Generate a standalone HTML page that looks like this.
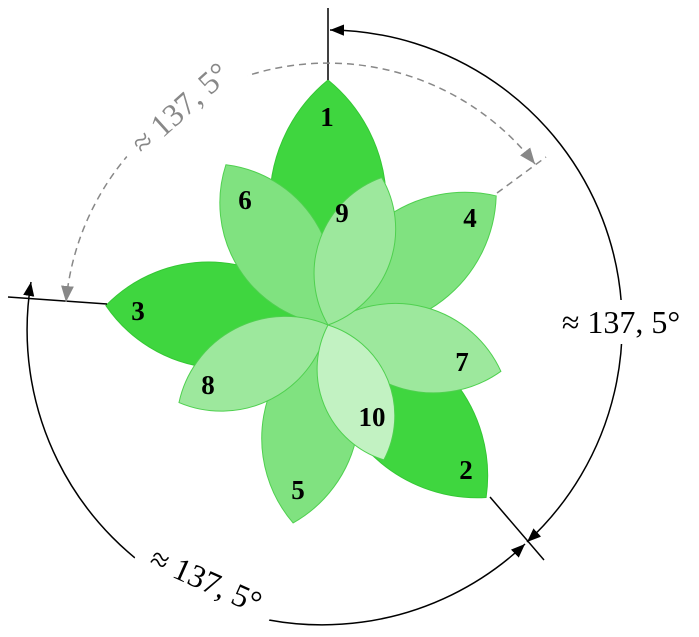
<!DOCTYPE html>
<html><head><meta charset="utf-8"><style>
html,body{margin:0;padding:0;background:#fff;width:699px;height:637px;overflow:hidden}
</style></head><body>
<svg width="699" height="637" viewBox="0 0 699 637" xmlns="http://www.w3.org/2000/svg">
<defs>
<marker id="ab" viewBox="0 0 10 10" refX="10" refY="5" markerWidth="14" markerHeight="14" markerUnits="userSpaceOnUse" orient="auto-start-reverse"><path d="M0,1 L10,5 L0,9 z" fill="#000"/></marker>
<marker id="ag" viewBox="0 0 10 10" refX="10" refY="5" markerWidth="16" markerHeight="16" markerUnits="userSpaceOnUse" orient="auto-start-reverse"><path d="M0,1 L10,5 L0,9 z" fill="#888"/></marker>
</defs>
<g transform="translate(328,325)">
<g stroke-width="1">
<path transform="rotate(0)" d="M0,0 A158 158 0 0 1 0,-245 A158 158 0 0 1 0,0Z" fill="#3fd63f" stroke="#34c734"/>
<path transform="rotate(137.5)" d="M0,0 A151 151 0 0 1 0,-234 A151 151 0 0 1 0,0Z" fill="#3fd63f" stroke="#34c734"/>
<path transform="rotate(275)" d="M0,0 A144 144 0 0 1 0,-223 A144 144 0 0 1 0,0Z" fill="#3fd63f" stroke="#34c734"/>
<path transform="rotate(52.5)" d="M0,0 A137 137 0 0 1 0,-212 A137 137 0 0 1 0,0Z" fill="#80e280" stroke="#4fd04f"/>
<path transform="rotate(190)" d="M0,0 A130 130 0 0 1 0,-201 A130 130 0 0 1 0,0Z" fill="#80e280" stroke="#4fd04f"/>
<path transform="rotate(327.5)" d="M0,0 A123 123 0 0 1 0,-190 A123 123 0 0 1 0,0Z" fill="#80e280" stroke="#4fd04f"/>
<path transform="rotate(105)" d="M0,0 A116 116 0 0 1 0,-179 A116 116 0 0 1 0,0Z" fill="#9de89d" stroke="#4fd04f"/>
<path transform="rotate(242.5)" d="M0,0 A109 109 0 0 1 0,-168 A109 109 0 0 1 0,0Z" fill="#9de89d" stroke="#4fd04f"/>
<path transform="rotate(20)" d="M0,0 A102 102 0 0 1 0,-157 A102 102 0 0 1 0,0Z" fill="#9de89d" stroke="#4fd04f"/>
<path transform="rotate(157.5)" d="M0,0 A95 95 0 0 1 0,-146 A95 95 0 0 1 0,0Z" fill="#c2f2c2" stroke="#4fd04f"/>
</g>
</g>
<g font-family="'Liberation Serif',serif" font-weight="bold" font-size="27" text-anchor="middle" dominant-baseline="central" fill="#000">
<text x="327" y="117">1</text><text x="466" y="470">2</text><text x="138" y="311">3</text>
<text x="470" y="218">4</text><text x="298" y="490">5</text><text x="245" y="200">6</text>
<text x="462" y="362">7</text><text x="208" y="385">8</text><text x="342" y="213">9</text>
<text x="372" y="417">10</text>
</g>
<g stroke="#000" stroke-width="1.5" fill="none">
<line x1="328" y1="80" x2="328" y2="8"/>
<line x1="107" y1="304" x2="8" y2="297"/>
<line x1="490" y1="497" x2="544" y2="560"/>
<path d="M330,30 A295 295 0 0 1 527,542" marker-start="url(#ab)" marker-end="url(#ab)"/>
<path d="M525,544 A295 295 0 0 1 31,282" marker-start="url(#ab)" marker-end="url(#ab)"/>
</g>
<g stroke="#888" stroke-width="1.5" fill="none" stroke-dasharray="7,5">
<line x1="497" y1="193" x2="546" y2="157"/>
<path d="M66,302 A263 263 0 0 1 535,164" marker-start="url(#ag)" marker-end="url(#ag)"/>
</g>
<g font-family="'Liberation Serif','DejaVu Serif',serif" font-size="32">
<g transform="translate(621,322)">
<rect x="-72" y="-22" width="144" height="44" fill="#fff"/>
<text x="0" y="0" text-anchor="middle" dominant-baseline="central" fill="#000">≈ 137, 5°</text>
</g>
<g transform="translate(180,108) rotate(-42)">
<rect x="-72" y="-22" width="144" height="44" fill="#fff"/>
<text x="0" y="0" text-anchor="middle" dominant-baseline="central" fill="#888">≈ 137, 5°</text>
</g>
<g transform="translate(206,580) rotate(24)">
<rect x="-74" y="-22" width="148" height="44" fill="#fff"/>
<text x="0" y="0" text-anchor="middle" dominant-baseline="central" fill="#000">≈ 137, 5°</text>
</g>
</g>
</svg>
</body></html>
